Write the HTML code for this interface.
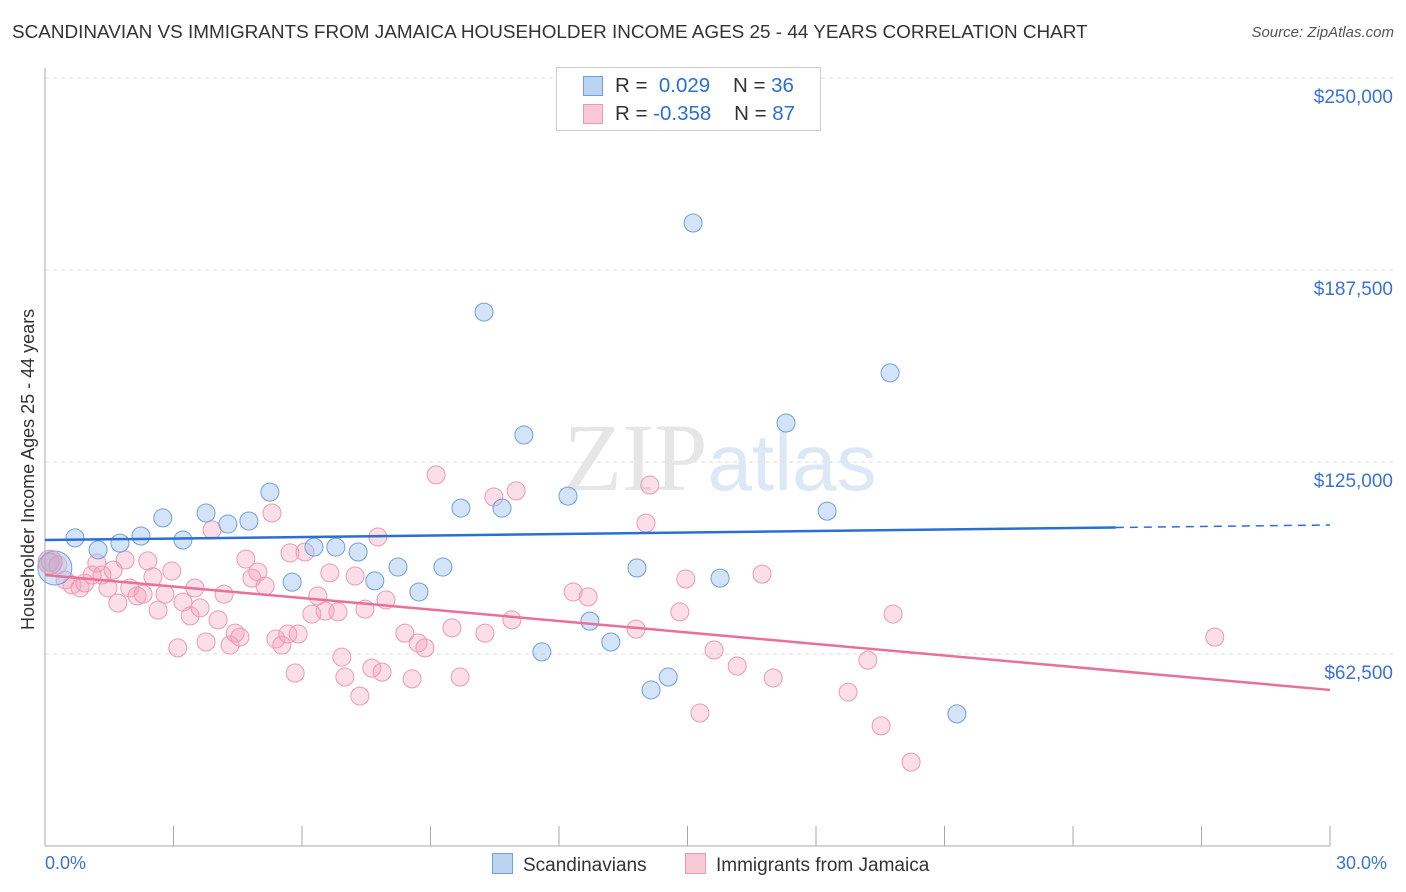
<!DOCTYPE html>
<html><head><meta charset="utf-8">
<style>
body{margin:0;background:#fff;font-family:"Liberation Sans",sans-serif;}
#wrap{position:relative;width:1406px;height:892px;overflow:hidden;}
.t{position:absolute;white-space:nowrap;}
</style></head><body>
<div id="wrap">
<div class="t" style="left:12px;top:22px;font-size:18.9px;color:#333;">SCANDINAVIAN VS IMMIGRANTS FROM JAMAICA HOUSEHOLDER INCOME AGES 25 - 44 YEARS CORRELATION CHART</div>
<div class="t" style="right:12px;top:24px;font-size:15px;color:#555;font-style:italic;">Source: ZipAtlas.com</div>
<svg id="svg" width="1406" height="892" style="position:absolute;left:0;top:0"></svg>
</div>
<script>
const yTicks=[62.5,125,187.5,250];
const yTickLabels=["$62,500","$125,000","$187,500","$250,000"];
const xTicks=[0,3,6,9,12,15,18,21,24,27,30];
const blueX=[0.23,0.70,1.24,1.75,2.24,2.75,3.22,3.76,4.27,4.76,5.25,5.77,6.28,6.79,7.31,7.70,8.24,8.73,9.29,9.71,10.25,10.67,11.18,11.60,12.21,12.72,13.21,13.82,14.15,14.55,15.13,15.76,17.30,18.26,19.73,21.29];
const blueY=[90.5,100.3,96.4,98.6,100.9,106.8,99.6,108.4,104.8,105.8,115.2,85.9,97.3,97.3,95.7,86.3,90.8,82.7,90.8,110.0,173.8,110.0,133.8,63.2,113.9,73.2,66.4,90.5,50.8,55.0,202.8,87.2,137.7,109.0,154.0,43.0];
const pinkX=[0.12,0.30,0.47,0.63,0.82,0.93,1.10,1.21,1.33,1.47,1.59,1.70,1.87,1.98,2.15,2.29,2.40,2.52,2.64,2.80,2.96,3.10,3.22,3.39,3.50,3.62,3.76,3.90,4.04,4.18,4.32,4.44,4.55,4.69,4.83,4.97,5.14,5.30,5.39,5.53,5.67,5.84,5.91,5.72,6.07,6.23,6.37,6.54,6.65,6.84,6.93,7.00,7.24,7.35,7.47,7.63,7.77,7.87,7.96,8.40,8.57,8.71,8.87,9.13,9.50,9.69,10.27,10.48,10.90,11.00,12.33,12.68,13.80,14.03,14.12,14.82,14.96,15.29,15.62,16.16,16.74,17.00,18.75,19.21,19.52,19.80,20.22,27.31];
const pinkY=[92.4,91.5,86.6,85.0,84.0,85.6,88.2,92.1,88.2,84.0,89.8,79.1,93.1,84.0,81.4,82.0,92.8,87.6,76.8,82.0,89.5,64.5,79.4,74.9,84.0,77.5,66.4,102.9,73.6,82.0,65.4,69.3,68.0,93.4,87.2,89.2,84.6,108.4,67.4,65.4,69.0,56.3,69.0,95.4,95.7,75.5,81.4,76.5,88.9,76.2,61.5,55.0,87.9,48.8,77.1,57.9,100.6,56.6,80.1,69.3,54.4,66.1,64.5,120.8,71.0,55.0,69.3,113.6,73.6,115.6,82.7,81.1,70.6,105.1,117.5,76.2,86.9,43.3,63.8,58.6,88.5,54.7,50.1,60.5,39.1,75.5,27.3,68.0];
const blueTrend=[99.6,104.5];
const pinkTrend=[88.2,50.8];
const NS="http://www.w3.org/2000/svg";
const svg=document.getElementById('svg');
const X=p=>45+p/30*1285;
const Y=v=>654-(v-62.5)/62.5*192;
function el(t,a,name){const e=document.createElementNS(NS,t);for(const k in a)e.setAttribute(k,a[k]);


svg.appendChild(e);return e;}
yTicks.forEach((v,i)=>{
 el('line',{x1:45,x2:1395,y1:Y(v),y2:Y(v),stroke:'#ddd','stroke-dasharray':'4,4'},'y-gridline');
 const t=el('text',{x:1393,y:Y(v)+25,'text-anchor':'end','font-size':19,fill:'#3a72d4'},'y-tick-label');t.textContent=yTickLabels[i];
});
el('line',{x1:45,x2:45,y1:68,y2:846,stroke:'#aaa'},'y-axis');
el('line',{x1:45,x2:1330,y1:846,y2:846,stroke:'#aaa'},'x-axis');
xTicks.forEach(p=>el('line',{x1:X(p),x2:X(p),y1:826,y2:846,stroke:'#aaa'},'x-tick'));
const wm=el('text',{x:720,y:490,'text-anchor':'middle','font-size':96,fill:'#e6e6e6','font-family':'Liberation Serif'},'watermark');
wm.innerHTML='ZIP<tspan fill="#dde8f6" font-family="Liberation Sans" font-size="80">atlas</tspan>';
for(let i=0;i<pinkX.length;i++)el('circle',{cx:X(pinkX[i]),cy:Y(pinkY[i]),r:9,fill:'rgba(244,160,185,0.35)',stroke:'#eb9ab4','stroke-width':1},'pink-point');
for(let i=0;i<blueX.length;i++)el('circle',{cx:X(blueX[i]),cy:Y(blueY[i]),r:i==0?17:9,fill:'rgba(160,195,240,0.45)',stroke:'#6f9fdc','stroke-width':1},'blue-point');
el('circle',{cx:X(pinkX[0]),cy:Y(pinkY[0]),r:12,fill:'rgba(200,150,180,0.4)',stroke:'#d99ab4'},'pink-point-large');
el('line',{x1:X(0),x2:X(25),y1:Y(blueTrend[0]),y2:Y(blueTrend[0]+(blueTrend[1]-blueTrend[0])*25/30),stroke:'#2a6fd4','stroke-width':2.5},'blue-trend-line');
el('line',{x1:X(25),x2:X(30),y1:Y(blueTrend[0]+(blueTrend[1]-blueTrend[0])*25/30),y2:Y(blueTrend[1]),stroke:'#2a6fd4','stroke-width':1.5,'stroke-dasharray':'8,6'},'blue-trend-extension');
el('line',{x1:X(0),x2:X(30),y1:Y(pinkTrend[0]),y2:Y(pinkTrend[1]),stroke:'#e8709a','stroke-width':2.5},'pink-trend-line');
</script>
<div class="t" style="left:18px;top:630px;transform:rotate(-90deg);transform-origin:0 0;font-size:18px;color:#333;">Householder Income Ages 25 - 44 years</div>
<div class="t" style="left:45px;top:853px;font-size:18px;color:#3a72d4;">0.0%</div>
<div class="t" style="left:1336px;top:853px;font-size:18px;color:#3a72d4;">30.0%</div>
<div class="t" style="left:556px;top:67px;width:263px;height:62px;border:1px solid #ccc;background:#fff;font-size:20.5px;">
 <div style="position:absolute;left:26px;top:8px;width:18px;height:18px;background:#bcd3f2;border:1px solid #6f9fdc"></div>
 <div style="position:absolute;left:58px;top:6px;color:#333">R = <span style="color:#2a6fd4">&nbsp;0.029</span>&nbsp;&nbsp;&nbsp; N = <span style="color:#2a6fd4">36</span></div>
 <div style="position:absolute;left:26px;top:36px;width:18px;height:18px;background:#f8c8d6;border:1px solid #eb9ab4"></div>
 <div style="position:absolute;left:58px;top:34px;color:#333">R = <span style="color:#2a6fd4">-0.358</span>&nbsp;&nbsp;&nbsp; N = <span style="color:#2a6fd4">87</span></div>
</div>
<div class="t" style="left:492px;top:853px;font-size:19px;color:#333;"><span style="display:inline-block;width:19px;height:19px;background:#bcd3f2;border:1px solid #6f9fdc;vertical-align:-3px;margin-right:10px"></span>Scandinavians</div>
<div class="t" style="left:685px;top:853px;font-size:19px;color:#333;"><span style="display:inline-block;width:19px;height:19px;background:#f8c8d6;border:1px solid #eb9ab4;vertical-align:-3px;margin-right:10px"></span>Immigrants from Jamaica</div>
</body></html>
